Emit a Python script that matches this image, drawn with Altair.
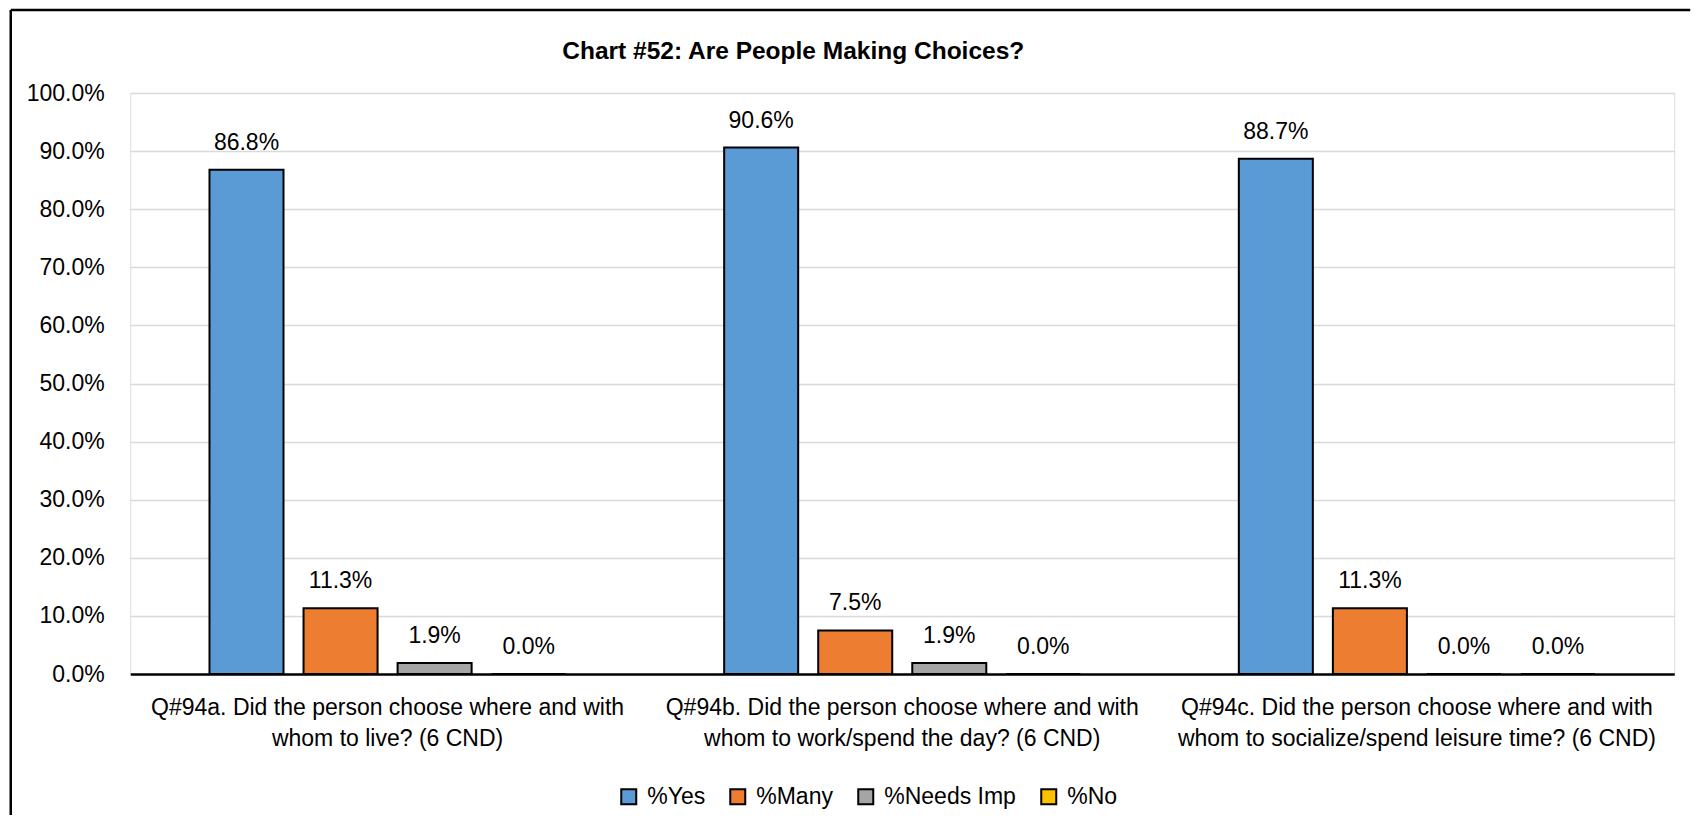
import altair as alt
import pandas as pd

categories = [
    "Q#94a. Did the person choose where and with\nwhom to live? (6 CND)",
    "Q#94b. Did the person choose where and with\nwhom to work/spend the day? (6 CND)",
    "Q#94c. Did the person choose where and with\nwhom to socialize/spend leisure time? (6 CND)",
]
series = ["%Yes", "%Many", "%Needs Imp", "%No"]
colors = ["#5B9BD5", "#ED7D31", "#A5A5A5", "#FFC000"]
yes_vals = [0.868, 0.906, 0.887]
many_vals = [0.113, 0.075, 0.113]
needs_vals = [0.019, 0.019, 0.0]
no_vals = [0.0, 0.0, 0.0]
y_ticks = [0.0, 0.1, 0.2, 0.3, 0.4, 0.5, 0.6, 0.7, 0.8, 0.9, 1.0]

rows = []
for vals, s in zip([yes_vals, many_vals, needs_vals, no_vals], series):
    for c, v in zip(categories, vals):
        rows.append({"question": c, "series": s, "value": v})
df = pd.DataFrame(rows)

FONT = "Liberation Sans, Arial, sans-serif"
FS = 23

base = alt.Chart(df).encode(
    x=alt.X(
        "question:N",
        sort=categories,
        scale=alt.Scale(paddingInner=0.269, paddingOuter=0.1345),
        axis=alt.Axis(
            title=None,
            labelAngle=0,
            ticks=False,
            labelExpr="split(datum.label, '\\n')",
            labelFontSize=FS,
            labelFont=FONT,
            labelColor="#000000",
            labelLineHeight=31,
            labelPadding=22,
            labelLimit=800,
            domainColor="#000000",
            domainWidth=2.5,
            grid=False,
        ),
    ),
    xOffset=alt.XOffset(
        "series:N",
        sort=series,
        scale=alt.Scale(paddingInner=0.213, paddingOuter=0.1065),
    ),
    y=alt.Y(
        "value:Q",
        scale=alt.Scale(domain=[0, 1], nice=False),
        axis=alt.Axis(
            title=None,
            values=y_ticks,
            format=".1%",
            ticks=False,
            domain=False,
            labelFontSize=FS,
            labelFont=FONT,
            labelColor="#000000",
            labelPadding=26,
            grid=True,
            gridColor="#d9d9d9",
            gridWidth=1.5,
        ),
    ),
)

bars = base.mark_bar(stroke="#000000", strokeWidth=2).encode(
    color=alt.Color(
        "series:N",
        sort=series,
        scale=alt.Scale(domain=series, range=colors),
        legend=alt.Legend(
            title=None,
            orient="none",
            direction="horizontal",
            columns=4,
            legendX=487,
            legendY=692,
            symbolType="square",
            symbolSize=225,
            symbolStrokeColor="#000000",
            symbolStrokeWidth=2,
            symbolOpacity=1,
            labelFontSize=FS,
            labelFont=FONT,
            labelColor="#000000",
            labelOffset=7,
            columnPadding=21,
            labelLimit=400,
            padding=0,
        ),
    )
)

labels = base.mark_text(
    dy=-20, baseline="alphabetic", fontSize=FS, font=FONT, color="#000000"
).encode(text=alt.Text("value:Q", format=".1%"))

frame_df = pd.DataFrame({"k": [0]})
frame_top = alt.Chart(frame_df).mark_rule(color="#000000", strokeWidth=2.5).encode(
    x=alt.value(-119.5), x2=alt.value(1560), y=alt.value(-83)
)
frame_left = alt.Chart(frame_df).mark_rule(color="#000000", strokeWidth=2.5).encode(
    x=alt.value(-119.5), y=alt.value(-83), y2=alt.value(722)
)

chart = (
    alt.layer(bars, labels, frame_top, frame_left)
    .properties(
        width=1544,
        height=581,
        padding={"left": 1.25, "top": 0, "right": 0, "bottom": 0},
        title=alt.TitleParams(
            "Chart #52: Are People Making Choices?",
            fontSize=24.5,
            fontWeight="bold",
            font=FONT,
            color="#000000",
            anchor="middle",
            frame="group",
            dx=-109,
            baseline="alphabetic",
            offset=-75,
        ),
    )
    .configure_view(stroke="#000000", strokeWidth=2)
    .configure(background="#ffffff")
)

chart.save("out.html", embed_options={"renderer": "svg", "actions": False})
